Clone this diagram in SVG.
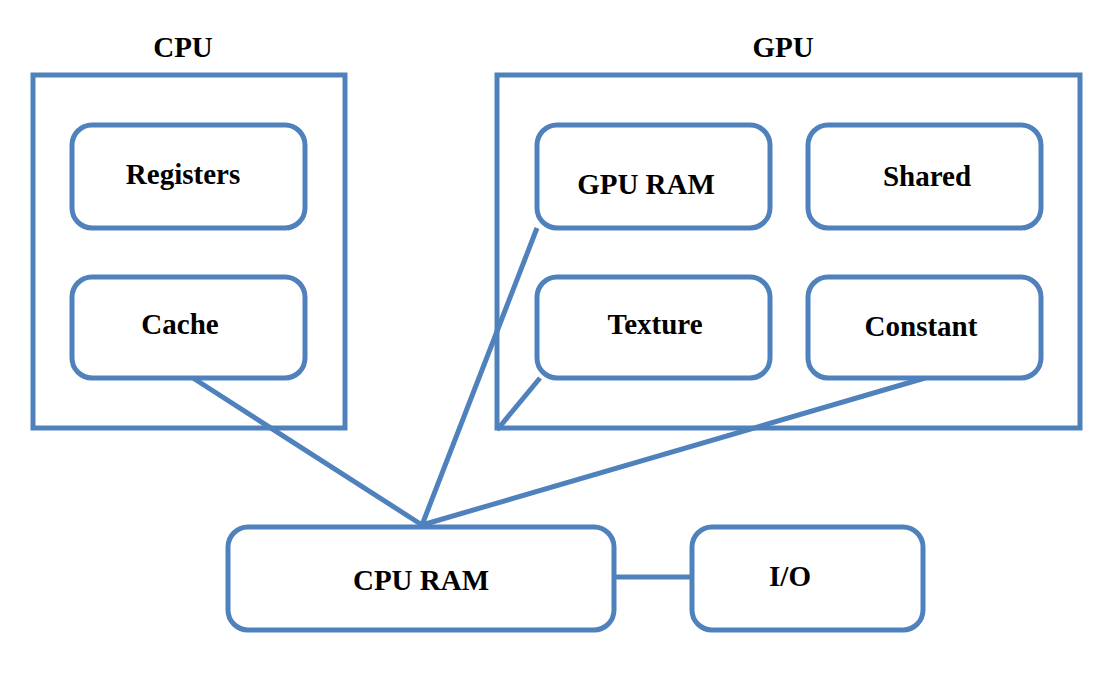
<svg xmlns="http://www.w3.org/2000/svg" width="1103" height="686" viewBox="0 0 1103 686">
<style>
.b{fill:#fff;stroke:#4F81BD;stroke-width:5}
.t{font-family:"Liberation Serif",serif;font-weight:bold;font-size:29px;text-anchor:middle;fill:#000}
.c{stroke:#4F81BD;stroke-width:5;fill:none}
</style>
<rect width="1103" height="686" fill="#fff"/>
<g id="cpu"><rect class="b" x="33" y="75" width="312" height="353"/><text class="t" x="183" y="57" font-size="33">CPU</text></g>
<g id="gpu"><rect class="b" x="497" y="75" width="583" height="353"/><text class="t" x="783" y="57" font-size="33">GPU</text></g>
<g id="connectors">
<path class="c" d="M193 378L422 525M537 228L422 525M540 378L497 430M925 378L422 525M614 577H692"/>
</g>
<g id="registers"><rect class="b" x="72" y="125" width="233" height="103" rx="20"/><text class="t" x="183" y="184">Registers</text></g>
<g id="cache"><rect class="b" x="72" y="277" width="233" height="101" rx="20"/><text class="t" x="180" y="334">Cache</text></g>
<g id="gpuram"><rect class="b" x="537" y="125" width="233" height="103" rx="20"/><text class="t" x="646" y="194">GPU RAM</text></g>
<g id="shared"><rect class="b" x="808" y="125" width="233" height="103" rx="20"/><text class="t" x="927" y="186">Shared</text></g>
<g id="texture"><rect class="b" x="537" y="277" width="233" height="101" rx="20"/><text class="t" x="655" y="334">Texture</text></g>
<g id="constant"><rect class="b" x="808" y="277" width="233" height="101" rx="20"/><text class="t" x="921" y="336">Constant</text></g>
<g id="cpuram"><rect class="b" x="228" y="527" width="386" height="103" rx="20"/><text class="t" x="421" y="590">CPU RAM</text></g>
<g id="io"><rect class="b" x="692" y="527" width="231" height="103" rx="20"/><text class="t" x="790" y="586">I/O</text></g>
</svg>
